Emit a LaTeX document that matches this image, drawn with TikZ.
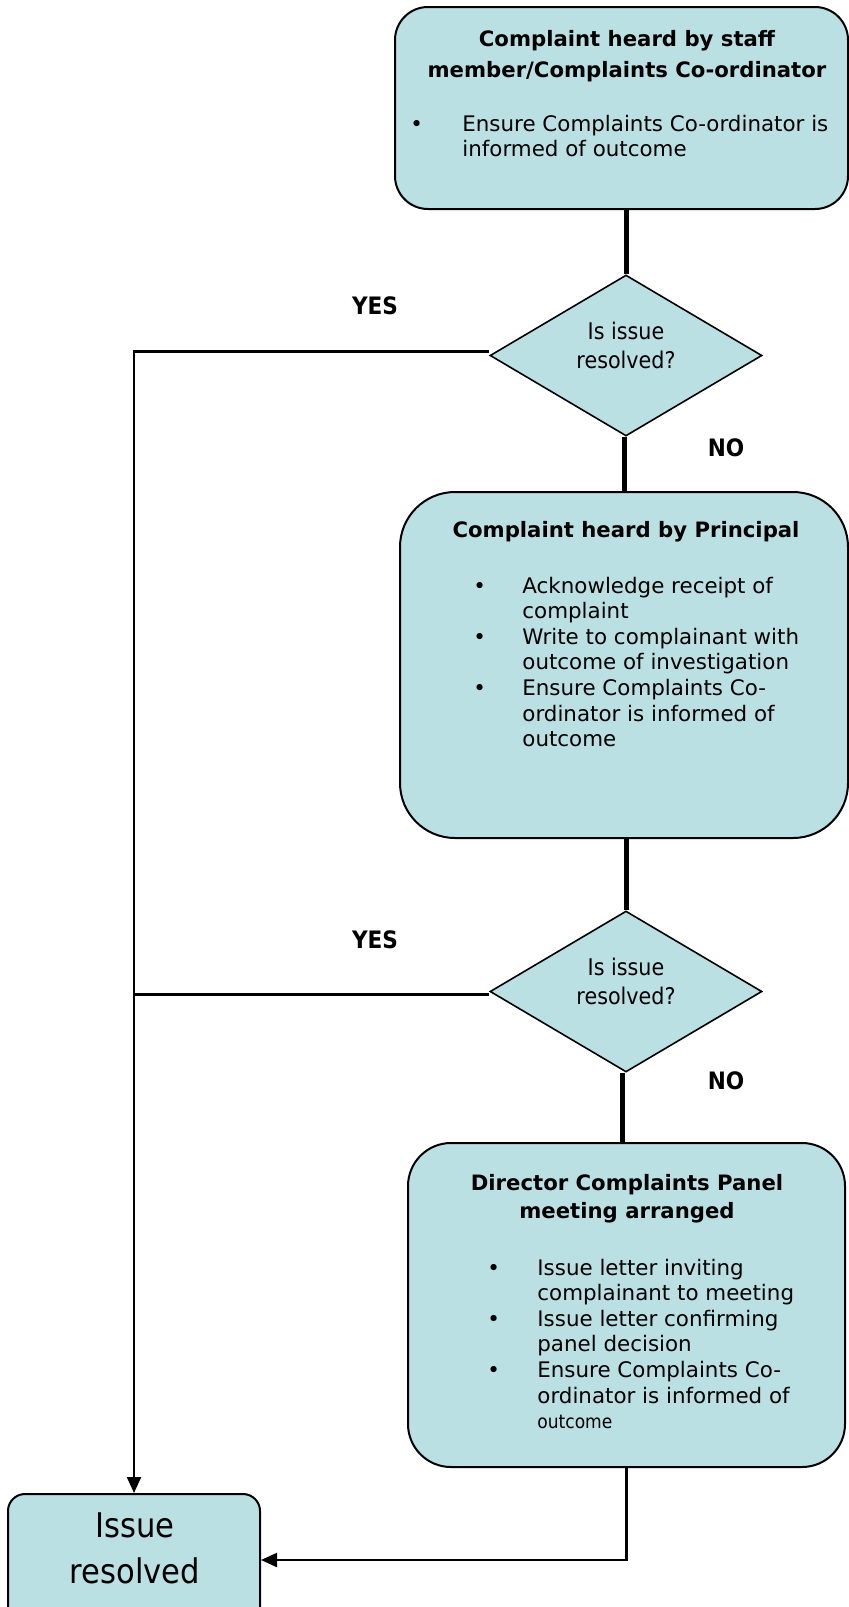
\documentclass[tikz,border=0pt]{standalone}
\usepackage{fontspec}
\setmainfont{DejaVu Sans}
\newfontfamily\condfont{DejaVu Sans Condensed}
\usetikzlibrary{shapes.geometric,arrows.meta}
\definecolor{boxblue}{RGB}{187,224,227}
\newcommand\bodyfont{\fontsize{10.7}{12.8}\selectfont}
\newcommand\headfont{\bfseries\fontsize{10.6}{15.5}\selectfont}
\tikzset{
  flowbox/.style={draw,fill=boxblue,line width=1pt,rounded corners=#1,inner sep=0pt},
  decision/.style={diamond,draw,fill=boxblue,line width=0.8pt,inner sep=0pt,
    minimum width=136pt,minimum height=80.5pt},
  txt/.style={inner sep=0pt},
  answer/.style={inner sep=0pt,anchor=base,font=\condfont\bfseries\fontsize{12}{14}\selectfont},
  heavy/.style={line width=2.5pt},
  link/.style={line width=1.1pt}
}
\begin{document}
\begin{tikzpicture}[x=0.5pt,y=-0.5pt,>={Triangle[length=8pt,width=7pt]}]
  \useasboundingbox (0,0) rectangle (848,1607);
  % boxes and decisions
  \node[flowbox=16.5pt,minimum width=226.5pt,minimum height=101pt] (b1) at (621.5,108) {};
  \node[flowbox=27.5pt,minimum width=224pt,minimum height=173pt] (b2) at (624,665) {};
  \node[flowbox=21.5pt,minimum width=218.5pt,minimum height=162pt] (b3) at (626.5,1305) {};
  \node[flowbox=8.5pt,minimum width=126pt,minimum height=66pt] (r4) at (134,1560) {};
  \node[decision] (d1) at (626,355.5) {};
  \node[decision] (d2) at (626,991.5) {};
  % texts
  \node[txt,anchor=base] (h1) at (627,46) {\headfont\begin{tabular}[t]{@{}c@{}}Complaint heard by staff\\member/Complaints Co-ordinator\end{tabular}};
  \node[txt,anchor=base west] (l1) at (410,131) {\bodyfont\begin{tabular}[t]{@{}p{26pt}@{}l@{}}
    \textbullet & Ensure Complaints Co-ordinator is\\
    & informed of outcome\end{tabular}};
  \node[txt,anchor=base] (h2) at (626,537) {\headfont Complaint heard by Principal};
  \node[txt,anchor=base west] (l2) at (473,593) {\bodyfont\begin{tabular}[t]{@{}p{24.5pt}@{}l@{}}
    \textbullet & Acknowledge receipt of\\
    & complaint\\
    \textbullet & Write to complainant with\\
    & outcome of investigation\\
    \textbullet & Ensure Complaints Co-\\
    & ordinator is informed of\\
    & outcome\end{tabular}};
  \node[txt,anchor=base] (h3) at (627,1190) {\bfseries\fontsize{10.6}{14.3}\selectfont\begin{tabular}[t]{@{}c@{}}Director Complaints Panel\\meeting arranged\end{tabular}};
  \node[txt,anchor=base west] (l3) at (487,1275) {\bodyfont\begin{tabular}[t]{@{}p{25pt}@{}l@{}}
    \textbullet & Issue letter inviting\\
    & complainant to meeting\\
    \textbullet & Issue letter confirming\\
    & panel decision\\
    \textbullet & Ensure Complaints Co-\\
    & ordinator is informed of\\
    & {\condfont\fontsize{9.5}{12.8}\selectfont outcome}\end{tabular}};
  \node[txt,anchor=base] (q1) at (626,339) {\condfont\fontsize{11.5}{14.8}\selectfont\begin{tabular}[t]{@{}c@{}}Is issue\\resolved?\end{tabular}};
  \node[txt,anchor=base] (q2) at (626,975) {\condfont\fontsize{11.5}{14.8}\selectfont\begin{tabular}[t]{@{}c@{}}Is issue\\resolved?\end{tabular}};
  \node[txt,anchor=base] (i4) at (135,1537) {\condfont\fontsize{17}{23.3}\selectfont\begin{tabular}[t]{@{}c@{}}Issue\\resolved\end{tabular}};
  \node[answer] (y1) at (375,314) {YES};
  \node[answer] (y2) at (375,948) {YES};
  \node[answer] (n1) at (726,456) {NO};
  \node[answer] (n2) at (726,1089) {NO};
  % connectors
  \draw[heavy] (d1.north |- b1.south) -- (d1.north);
  \draw[heavy] (b2.north) -- (b2.north |- d1.south);
  \draw[heavy] (d2.north |- b2.south) -- (d2.north);
  \draw[heavy] ([xshift=-2pt]d2.south) -- ([xshift=-2pt]d2.south |- b3.north);
  \draw[link,->] ([yshift=2pt]d1.west) -| (r4.north);
  \draw[link] ([yshift=-1.5pt]d2.west) -- ([yshift=-1.5pt]d2.west -| r4.north);
  \draw[link,->] (b3.south) |- (r4.east);
\end{tikzpicture}
\end{document}
